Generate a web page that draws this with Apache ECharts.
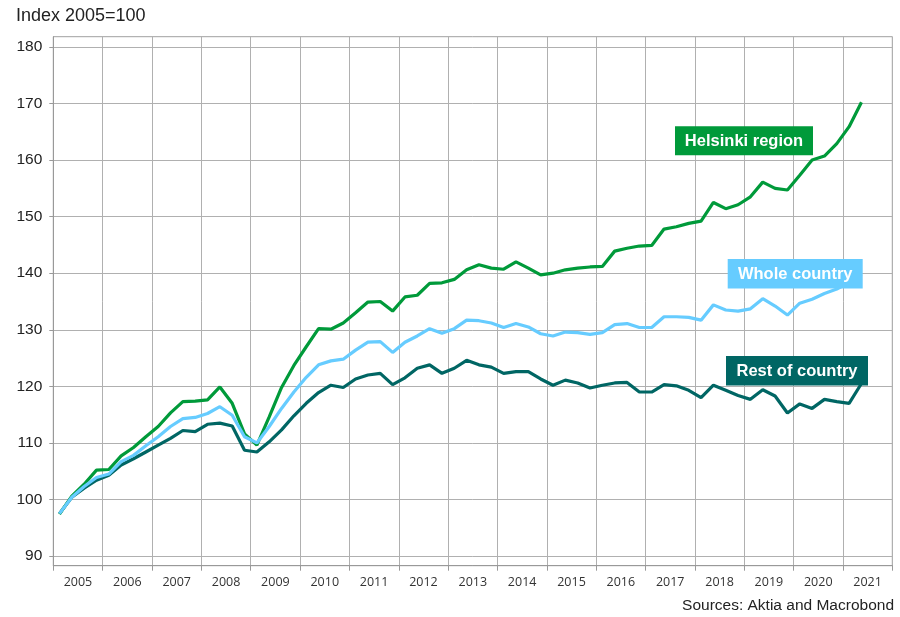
<!DOCTYPE html>
<html>
<head>
<meta charset="utf-8">
<script src="https://cdn.jsdelivr.net/npm/echarts@6/dist/echarts.min.js"></script>
<style>
  html, body { margin: 0; padding: 0; background: #fff; }
  #chart { width: 900px; height: 617px; }
</style>
</head>
<body>
<div id="chart"></div>
<script>
// year labels on the x axis (each year split into 4 quarters)
const years = ['2005', '2006', '2007', '2008', '2009', '2010', '2011', '2012', '2013',
  '2014', '2015', '2016', '2017', '2018', '2019', '2020', '2021'];
const yTicks = [90, 100, 110, 120, 130, 140, 150, 160, 170, 180];

// quarterly index values, 2005Q1 .. 2021Q2
const helsinki = [
  97.4, 100.6, 102.7, 105.2, 105.3, 107.7, 109.2, 111.1, 112.9, 115.3, 117.3, 117.4,
  117.6, 119.9, 117.0, 111.6, 109.6, 114.6, 119.8, 123.7, 127.0, 130.2, 130.1, 131.2,
  133.0, 134.9, 135.0, 133.3, 135.8, 136.1, 138.2, 138.3, 138.9, 140.6, 141.5, 140.9,
  140.7, 142.0, 140.9, 139.7, 140.0, 140.6, 140.9, 141.1, 141.2, 143.9, 144.4, 144.8,
  144.9, 147.8, 148.2, 148.8, 149.2, 152.5, 151.4, 152.1, 153.5, 156.1, 155.0, 154.7,
  157.3, 160.0, 160.7, 162.9, 165.9, 170.2
];
const wholeCountry = [
  97.5, 100.4, 102.3, 103.9, 104.5, 106.7, 107.8, 109.5, 111.1, 112.9, 114.3, 114.5,
  115.2, 116.4, 114.9, 111.1, 110.0, 112.9, 116.1, 119.0, 121.6, 123.8, 124.5, 124.8,
  126.4, 127.8, 127.9, 126.0, 127.8, 128.9, 130.2, 129.4, 130.2, 131.7, 131.6, 131.2,
  130.4, 131.1, 130.5, 129.3, 128.9, 129.6, 129.5, 129.2, 129.5, 130.9, 131.1, 130.4,
  130.4, 132.3, 132.3, 132.2, 131.7, 134.4, 133.5, 133.3, 133.7, 135.5, 134.2, 132.6,
  134.7, 135.4, 136.4, 137.2, 138.4, 139.8
];
const restOfCountry = [
  97.5, 100.4, 102.0, 103.4, 104.3, 106.1, 107.2, 108.4, 109.6, 110.8, 112.2, 112.0,
  113.3, 113.5, 113.0, 108.7, 108.4, 110.2, 112.3, 114.8, 117.0, 118.9, 120.2, 119.8,
  121.3, 122.0, 122.3, 120.3, 121.5, 123.2, 123.8, 122.3, 123.2, 124.6, 123.8, 123.4,
  122.3, 122.6, 122.6, 121.3, 120.2, 121.1, 120.6, 119.7, 120.2, 120.6, 120.7, 119.0,
  119.0, 120.3, 120.1, 119.3, 118.0, 120.2, 119.3, 118.4, 117.7, 119.4, 118.3, 115.3,
  116.9, 116.1, 117.7, 117.3, 117.0, 120.5
];

const quarters = [];
years.forEach(y => ['Q1', 'Q2', 'Q3', 'Q4'].forEach(q => quarters.push(y + q)));

const green = '#009a3a';
const lightBlue = '#66ccff';
const teal = '#006664';

const chart = echarts.init(document.getElementById('chart'));

// colored name boxes
const tag = (text, color, cx, cy, w, h) => ([
  { type: 'rect', z: 100, shape: { x: cx - w / 2, y: cy - h / 2, width: w, height: h }, style: { fill: color } },
  { type: 'text', z: 101, x: cx, y: cy + 0.5, style: { text: text, fill: '#fff', font: 'bold 16.5px "Liberation Sans", Arial, sans-serif', align: 'center', verticalAlign: 'middle' } }
]);

const option = {
  animation: false,
  grid: { left: 53.3, right: 7.7, top: 36.7, bottom: 51.3, show: true, borderColor: '#a0a0a0', borderWidth: 1 },
  xAxis: [
    {
      type: 'category',
      data: years,
      boundaryGap: true,
      axisLine: { show: true, lineStyle: { color: '#999', width: 1 } },
      axisTick: { show: true, interval: 0, length: 5, lineStyle: { color: '#999' } },
      axisLabel: { interval: 0, margin: 10, fontFamily: '"Open Sans", sans-serif', fontSize: 12.5, color: '#333' },
      splitLine: { show: true, interval: 0, lineStyle: { color: '#b0b0b0', width: 1 } }
    },
    { type: 'category', data: quarters, boundaryGap: true, show: false }
  ],
  yAxis: {
    type: 'value',
    min: 88.3,
    max: 181.8,
    axisLine: { show: true, lineStyle: { color: '#999', width: 1 } },
    axisTick: { show: true, customValues: yTicks, length: 4, lineStyle: { color: '#999' } },
    axisLabel: { customValues: yTicks, margin: 11, fontFamily: '"Liberation Sans", Arial, sans-serif', fontSize: 15.5, color: '#222' },
    splitLine: { show: true, lineStyle: { color: '#b0b0b0', width: 1 } }
  },
  series: [
    { name: 'Rest of country', type: 'line', xAxisIndex: 1, data: restOfCountry, showSymbol: false, color: teal, lineStyle: { width: 3.2 } },
    { name: 'Helsinki region', type: 'line', xAxisIndex: 1, data: helsinki, showSymbol: false, color: green, lineStyle: { width: 3.2 } },
    { name: 'Whole country', type: 'line', xAxisIndex: 1, data: wholeCountry, showSymbol: false, color: lightBlue, lineStyle: { width: 3.2 } }
  ],
  graphic: [
    { type: 'text', left: 16, top: 7, style: { text: 'Index 2005=100', fill: '#222', font: '18px "Liberation Sans", Arial, sans-serif' } },
    { type: 'text', right: 6, top: 598, style: { text: 'Sources: Aktia and Macrobond', fill: '#222', font: '15.5px "Liberation Sans", Arial, sans-serif' } },
    ...tag('Helsinki region', green, 744, 140.7, 138, 29),
    ...tag('Whole country', lightBlue, 795.2, 273.8, 135, 29.5),
    ...tag('Rest of country', teal, 797, 370.7, 142, 29.5)
  ]
};

chart.setOption(option);
</script>
</body>
</html>
